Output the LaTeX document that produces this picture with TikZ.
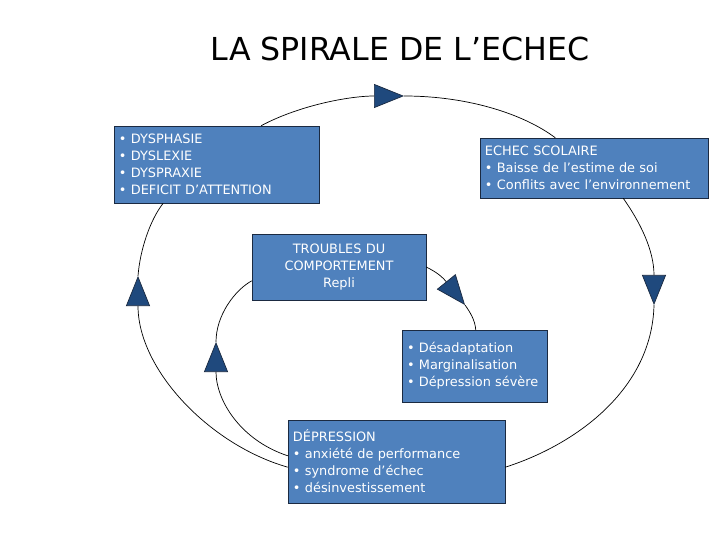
\documentclass[tikz,border=0pt]{standalone}
\usepackage{fontspec}
\setmainfont{DejaVu Sans}
\usetikzlibrary{arrows.meta,calc}
\definecolor{boxblue}{HTML}{4F81BD}
\definecolor{boxedge}{HTML}{1B2A41}
\definecolor{tipblue}{HTML}{1F497D}

\begin{document}
\begin{tikzpicture}[
  x=0.03cm,y=-0.03cm,
  font=\fontsize{11}{14.45}\selectfont,
  stage/.style={rectangle,draw=boxedge,fill=boxblue,text=white,inner xsep=0.15cm,inner ysep=0pt,align=left},
  spiral/.style={line width=0.6pt,black},
  tipped/.style={spiral,-{Triangle[length=0.9cm,width=0.72cm,fill=tipblue,color=boxedge]}},
  heading/.style={font=\fontsize{27}{30}\selectfont},
]
\useasboundingbox[fill=white] (0,0) rectangle (720,540);

% Title
\node[heading] (title) at (400,49) {LA SPIRALE DE L’ECHEC};

% Stages of the spiral
\node[stage,text width=5.85cm,minimum height=2.31cm] (dysbox) at (216.5,164.5)
  {• DYSPHASIE\\• DYSLEXIE\\• DYSPRAXIE\\• DEFICIT D’ATTENTION};
\node[stage,text width=6.54cm,minimum height=1.8cm] (echec) at (594,168)
  {ECHEC SCOLAIRE\\• Baisse de l’estime de soi\\• Conflits avec l’environnement};
\node[stage,text width=4.92cm,minimum height=1.98cm,align=center] (troubles) at (339,267)
  {TROUBLES DU\\COMPORTEMENT\\Repli};
\node[stage,text width=4.05cm,minimum height=2.16cm] (desadapt) at (474.5,366)
  {• Désadaptation\\• Marginalisation\\• Dépression sévère};
\node[stage,text width=6.21cm,minimum height=2.49cm] (depression) at (396.5,461.5)
  {DÉPRESSION\\• anxiété de performance\\• syndrome d’échec\\• désinvestissement};

% Arrow tips on the loops
\coordinate (tipT) at (404,96);
\coordinate (tipR) at (654,305);
\coordinate (tipL) at (138,276);
\coordinate (tipI) at (216,342);
\coordinate (tipD) at (465,305);

% Outer loop
\draw[tipped] (dysbox.41) .. controls (300,105) and (350,96) .. (tipT);
\draw[spiral] (tipT) .. controls (470,96) and (525,115) .. (echec.142);
\draw[tipped] (echec.-46) .. controls (640,222) and (654,250) .. (tipR);
\draw[spiral] (tipR) .. controls (652,390) and (575,445) .. (depression.-3);
\draw[tipped] (depression.183) .. controls (210,445) and (138,370) .. (tipL);
\draw[spiral] (tipL) .. controls (140,250) and (150,220) .. (dysbox.216);

% Inner loop
\draw[tipped] (depression.177) .. controls (240,440) and (216,400) .. (tipI);
\draw[spiral] (tipI) .. controls (216,315) and (235,290) .. (troubles.189);
\draw[tipped] (troubles.0) .. controls (432,270) and (440,274) .. (tipD);
\draw[spiral] (tipD) .. controls (470,312) and (475,320) .. (desadapt.88);
\end{tikzpicture}
\end{document}
